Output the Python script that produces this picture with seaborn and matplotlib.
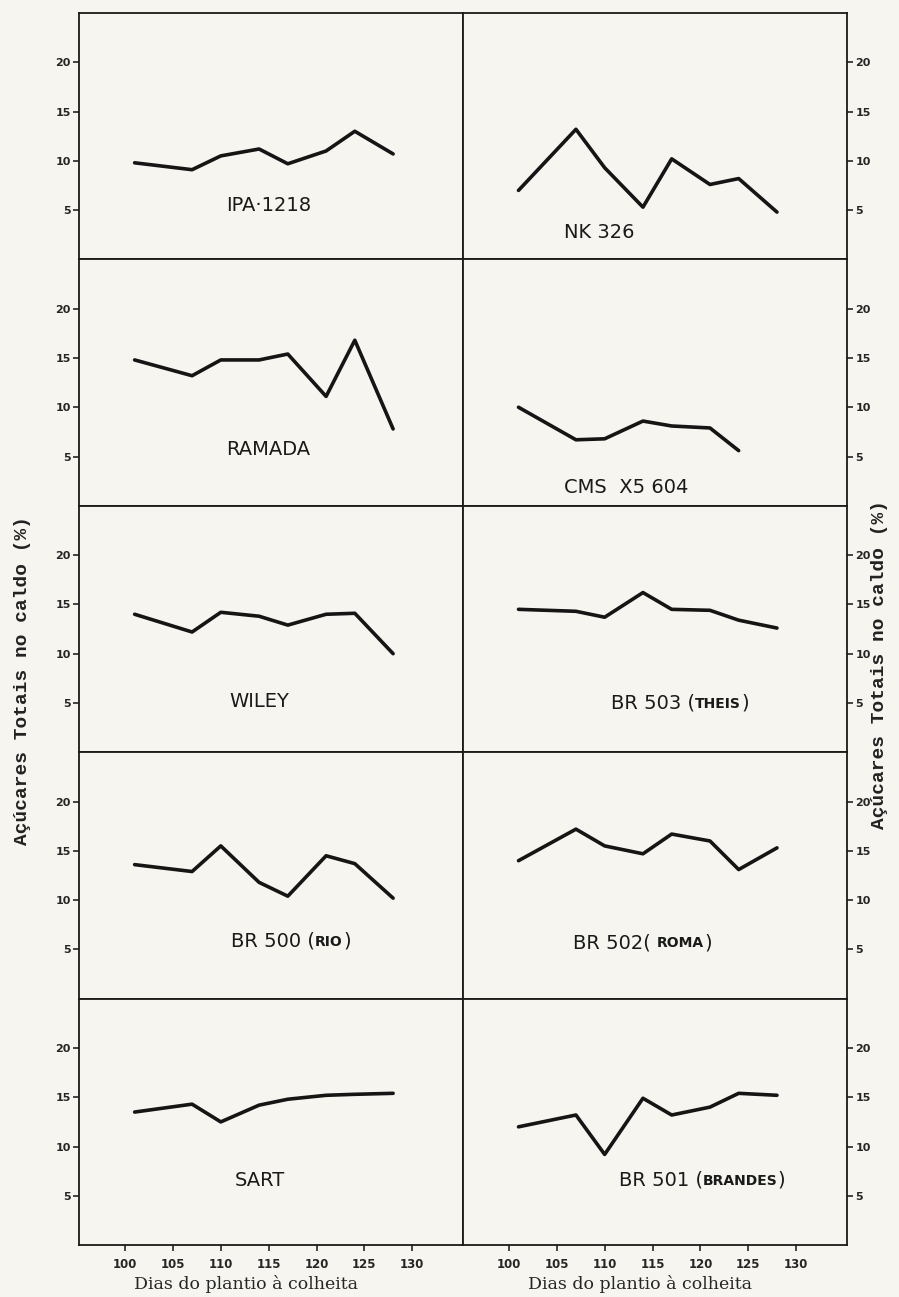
# Total sugars in juice vs. days from planting to harvest, 10 sorghum cultivars
import matplotlib
matplotlib.use("Agg")
import matplotlib.pyplot as plt
import seaborn as sns

# ---- data ----
days = [101, 107, 110, 114, 117, 121, 124, 128]

ipa_1218 = [9.8, 9.1, 10.5, 11.2, 9.7, 11.0, 13.0, 10.7]
nk_326 = [7.0, 13.2, 9.3, 5.3, 10.2, 7.6, 8.2, 4.8]
ramada = [14.8, 13.2, 14.8, 14.8, 15.4, 11.1, 16.8, 7.8]
cms_x5_604 = [10.0, 6.7, 6.8, 8.6, 8.1, 7.9, 5.6]
wiley = [14.0, 12.2, 14.2, 13.8, 12.9, 14.0, 14.1, 10.0]
br_503 = [14.5, 14.3, 13.7, 16.2, 14.5, 14.4, 13.4, 12.6]
br_500 = [13.6, 12.9, 15.5, 11.8, 10.4, 14.5, 13.7, 10.2]
br_502 = [14.0, 17.2, 15.5, 14.7, 16.7, 16.0, 13.1, 15.3]
sart = [13.5, 14.3, 12.5, 14.2, 14.8, 15.2, 15.3, 15.4]
br_501 = [12.0, 13.2, 9.2, 14.9, 13.2, 14.0, 15.4, 15.2]

# cultivar name split in (normal, small caps, normal) parts
names = [
    ("IPA·1218", "", ""), ("NK 326", "", ""),
    ("RAMADA", "", ""), ("CMS  X5 604", "", ""),
    ("WILEY", "", ""), ("BR 503 (", "THEIS", ")"),
    ("BR 500 (", "RIO", ")"), ("BR 502( ", "ROMA", ")"),
    ("SART", "", ""), ("BR 501 (", "BRANDES", ")"),
]
series = [ipa_1218, nk_326, ramada, cms_x5_604, wiley,
          br_503, br_500, br_502, sart, br_501]

y_ticks = [5, 10, 15, 20]
x_ticks = [100, 105, 110, 115, 120, 125, 130]
y_label = "Açúcares Totais no caldo (%)"
x_label = "Dias do plantio à colheita"

# label anchor (left edge, vertical centre) in data units
name_pos = [(110.6, 5.5), (105.7, 2.7), (110.6, 5.7), (105.7, 1.9), (110.9, 5.1),
            (110.7, 5.0), (111.1, 5.9), (106.7, 5.7), (111.5, 6.6), (111.5, 6.6)]

sns.set_style("ticks")
paper = "#f6f5f0"
ink = "#1a1a1a"

fig, axes = plt.subplots(5, 2, figsize=(8.99, 12.97), dpi=100, sharex=True, sharey=True,
                         gridspec_kw=dict(wspace=0, hspace=0))
fig.patch.set_facecolor(paper)
fig.subplots_adjust(left=0.088, right=0.942, top=0.99, bottom=0.04)

for i, ax in enumerate(axes.flat):
    vals = series[i]
    sns.lineplot(x=days[:len(vals)], y=vals, ax=ax, color="#151515", lw=2.6)
    ax.set_facecolor(paper)
    ax.set_xlim(95.2, 135.3)
    ax.set_ylim(0, 25)
    for s in ax.spines.values():
        s.set_visible(True)
        s.set_linewidth(1.3)
        s.set_color(ink)

    col = i % 2
    row = i // 2
    ax.set_yticks(y_ticks)
    ax.set_yticklabels([str(t) for t in y_ticks], fontsize=8, fontweight="bold")
    if col == 0:
        ax.tick_params(axis="y", left=True, right=False, labelleft=True, labelright=False,
                       direction="out", length=4, width=1.2, pad=2)
    else:
        ax.tick_params(axis="y", left=False, right=True, labelleft=False, labelright=True,
                       direction="out", length=4, width=1.2, pad=2)

    ax.set_xticks(x_ticks)
    if row == 4:
        ax.set_xticklabels([str(t) for t in x_ticks], fontsize=8.5, fontweight="bold")
        ax.tick_params(axis="x", bottom=True, direction="out", length=4, width=1.2, pad=5)
        ax.set_xlabel(x_label, fontsize=12.5, family="DejaVu Serif")
        ax.xaxis.set_label_coords(0.436 if col == 0 else 0.46, -0.12)
    else:
        ax.tick_params(axis="x", bottom=False, labelbottom=False)
        ax.set_xlabel("")
    ax.set_ylabel("")

    main, small, tail = names[i]
    x0, y0 = name_pos[i]
    t = ax.text(x0, y0, main, fontsize=14, family="DejaVu Sans",
                ha="left", va="center", color=ink)
    if small:
        t2 = ax.annotate(small, xy=(1, 0.08), xycoords=t, fontsize=10, fontweight="bold",
                         family="DejaVu Sans", ha="left", va="bottom", color=ink)
        ax.annotate(tail, xy=(1, -0.08 / 0.72), xycoords=t2, fontsize=14,
                    family="DejaVu Sans", ha="left", va="bottom", color=ink)

fig.text(0.0245, 0.475, y_label, rotation=90, ha="center", va="center",
         fontsize=14, fontweight="bold", family="Liberation Mono", color="#222222")
fig.text(0.978, 0.488, y_label, rotation=90, ha="center", va="center",
         fontsize=14, fontweight="bold", family="Liberation Mono", color="#222222")

fig.savefig("out.png", dpi=100, facecolor=paper)
